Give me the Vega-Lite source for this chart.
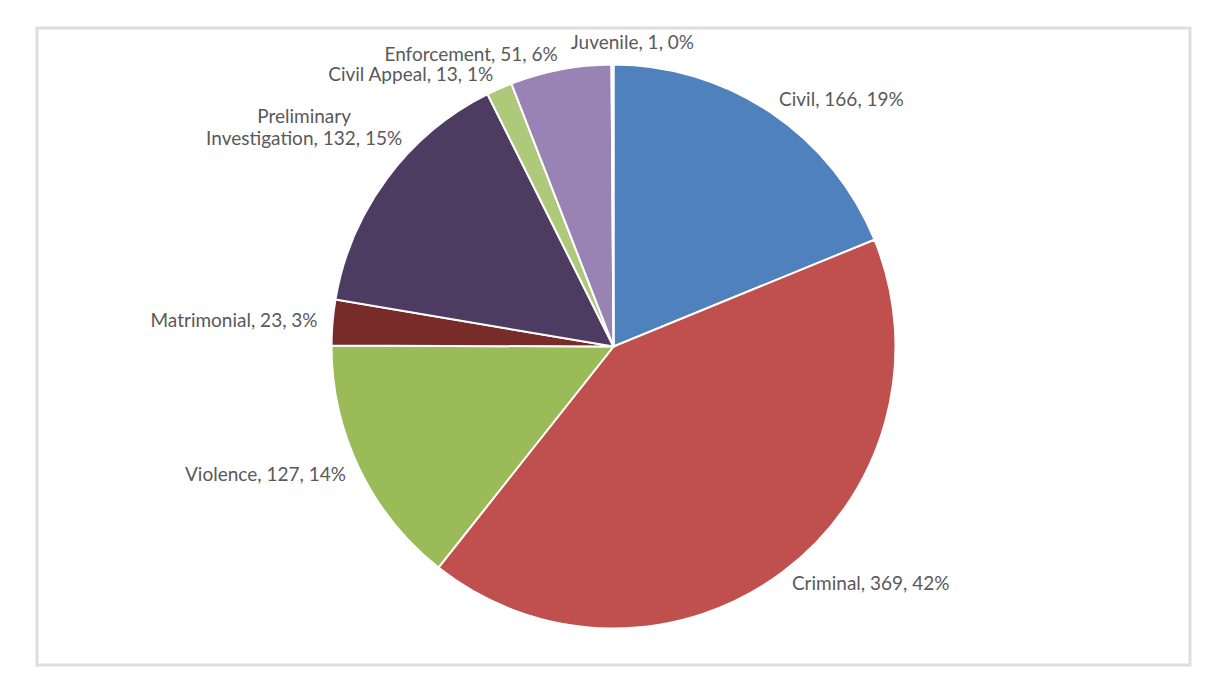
{
  "$schema": "https://vega.github.io/schema/vega-lite/v6.json",
  "width": 1209,
  "height": 689,
  "autosize": {"type": "fit", "contains": "padding"},
  "padding": {"left": 37, "top": 28, "right": 19, "bottom": 24},
  "background": "white",
  "view": {"stroke": "#dedede", "strokeWidth": 3, "fill": "white"},
  "config": {"view": {"stroke": "#dedede", "strokeWidth": 3, "fill": "white"}},
  "data": {
    "values": [
      {"idx": 1, "category": "Civil", "value": 166},
      {"idx": 2, "category": "Criminal", "value": 369},
      {"idx": 3, "category": "Violence", "value": 127},
      {"idx": 4, "category": "Matrimonial", "value": 23},
      {"idx": 5, "category": "Preliminary Investigation", "value": 132},
      {"idx": 6, "category": "Civil Appeal", "value": 13},
      {"idx": 7, "category": "Enforcement", "value": 51},
      {"idx": 8, "category": "Juvenile", "value": 1}
    ]
  },
  "transform": [
    {"joinaggregate": [{"op": "sum", "field": "value", "as": "total"}]},
    {"calculate": "round(datum.value / datum.total * 100)", "as": "pct"},
    {"calculate": "replace(datum.category, 'Preliminary ', 'Preliminary\\n') + ', ' + datum.value + ', ' + datum.pct + '%'", "as": "label"}
  ],
  "encoding": {
    "theta": {"field": "value", "type": "quantitative", "stack": true},
    "order": {"field": "idx", "type": "quantitative"}
  },
  "layer": [
    {
      "mark": {"type": "arc", "outerRadius": 282, "stroke": "white", "strokeWidth": 2},
      "encoding": {
        "color": {
          "field": "category",
          "type": "nominal",
          "scale": {
            "domain": ["Civil", "Criminal", "Violence", "Matrimonial", "Preliminary Investigation", "Civil Appeal", "Enforcement", "Juvenile"],
            "range": ["#4F81BD", "#C0504D", "#9BBB59", "#772C2A", "#4D3B62", "#AFC97A", "#9983B5", "#6FBDD1"]
          },
          "legend": null
        }
      }
    },
    {
      "mark": {
        "type": "text",
        "font": "Lato",
        "fontSize": 19,
        "color": "#595959",
        "lineBreak": "\n",
        "lineHeight": 22,
        "align": {"expr": "datum.category == 'Civil' || datum.category == 'Criminal' ? 'left' : (datum.category == 'Juvenile' || datum.category == 'Preliminary Investigation') ? 'center' : 'right'"},
        "baseline": {"expr": "datum.category == 'Juvenile' ? 'bottom' : 'middle'"},
        "dx": {"expr": "datum.category == 'Juvenile' ? 20 : 0"},
        "radius": {"expr": "datum.category == 'Preliminary Investigation' ? 385 : datum.category == 'Juvenile' ? 294 : 297"}
      },
      "encoding": {
        "text": {"field": "label", "type": "nominal"}
      }
    }
  ]
}
